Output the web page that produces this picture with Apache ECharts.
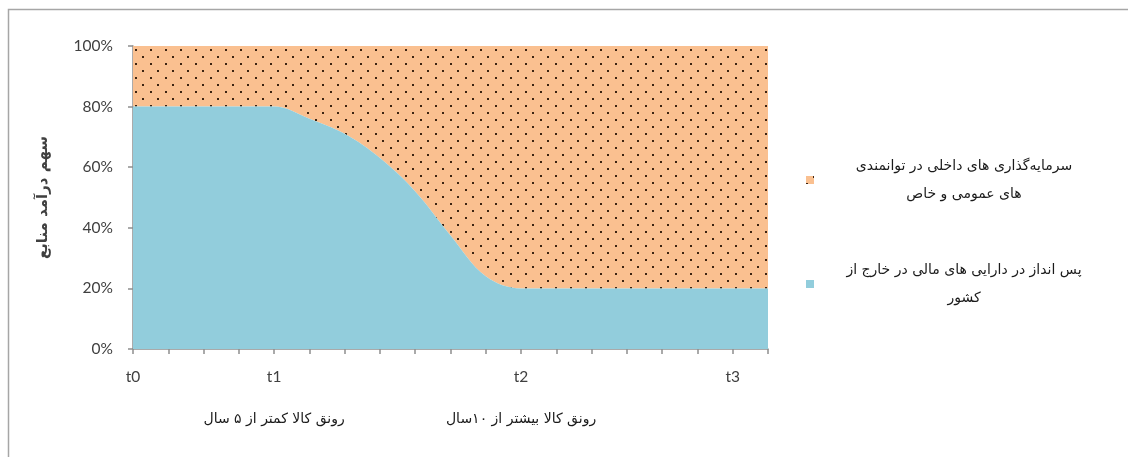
<!DOCTYPE html>
<html>
<head>
<meta charset="utf-8">
<script src="https://cdn.jsdelivr.net/npm/echarts@6/dist/echarts.min.js"></script>
<style>
html,body{margin:0;padding:0;background:#fff;}
#chart{width:1128px;height:457px;}
</style>
</head>
<body>
<div id="chart"></div>
<script>
// ---- data ----
var xCategories = ['0', '1', '2', '3', '4', '5', '6', '7', '8', '9', '10', '11', '12', '13', '14', '15', '16', '17', '18'];
var savingsAbroad = [80, 80, 80, 80, 80, 76, 71, 63, 52, 37.5, 24, 20, 20, 20, 20, 20, 20, 20, 20];
var domesticInvestment = [20, 20, 20, 20, 20, 24, 29, 37, 48, 62.5, 76, 80, 80, 80, 80, 80, 80, 80, 80];
var timeTickIndex = [0, 4, 11, 17];
var timeTickLabels = ['t0', 't1', 't2', 't3'];
var phaseTickIndex = [4, 11];
var phaseTickLabels = ['رونق کالا کمتر از ۵ سال', 'رونق کالا بیشتر از ۱۰سال'];
var seriesNames = {
  abroad: 'پس انداز در دارایی های مالی در خارج از\nکشور',
  domestic: 'سرمایه‌گذاری های داخلی در توانمندی\nهای عمومی و خاص'
};
var yAxisTitle = 'سهم درآمد منابع';

var chart = echarts.init(document.getElementById('chart'), null, {renderer: 'canvas'});
var axisColor = '#8f8f8f';
var labelFont = 'Lato, "Open Sans", sans-serif';
var faFont = '"DejaVu Sans", sans-serif';

chart.setOption({
  animation: false,
  backgroundColor: '#ffffff',
  grid: {left: 133, right: 360, top: 46, bottom: 108, containLabel: false},
  graphic: [{
    type: 'rect',
    shape: {x: 8.5, y: 9.5, width: 1300, height: 600},
    style: {fill: 'none', stroke: '#a6a6a6', lineWidth: 1.5},
    silent: true
  }],
  legend: {
    orient: 'vertical',
    left: 806,
    top: 159,
    padding: 0,
    itemGap: 62,
    itemWidth: 8,
    itemHeight: 8,
    icon: 'rect',
    data: [seriesNames.domestic, seriesNames.abroad],
    formatter: function (name) {
      return name.split('\n').map(function (s) { return '{c|' + s + '}'; }).join('\n');
    },
    textStyle: {
      rich: {
        c: {width: 290, align: 'center', lineHeight: 28, fontSize: 14, fontFamily: faFont, color: '#1a1a1a'}
      }
    }
  },
  xAxis: [{
    type: 'category',
    data: xCategories,
    boundaryGap: false,
    axisLine: {show: true, lineStyle: {color: axisColor, width: 1.5}},
    axisTick: {show: true, interval: 0, length: 5, lineStyle: {color: axisColor, width: 1.5}},
    splitLine: {show: false},
    axisLabel: {
      interval: 0,
      margin: 20,
      fontSize: 15.5, fontFamily: labelFont, color: '#404040',
      formatter: function (v, idx) { var i = timeTickIndex.indexOf(idx); return i >= 0 ? timeTickLabels[i] : ''; }
    }
  }, {
    type: 'category',
    data: xCategories,
    boundaryGap: false,
    position: 'bottom',
    offset: 53,
    axisLine: {show: false},
    axisTick: {show: false},
    splitLine: {show: false},
    axisLabel: {
      interval: 0,
      margin: 10,
      fontSize: 14, fontFamily: faFont, color: '#1a1a1a',
      formatter: function (v, idx) { var i = phaseTickIndex.indexOf(idx); return i >= 0 ? phaseTickLabels[i] : ''; }
    }
  }],
  yAxis: {
    type: 'value',
    min: 0, max: 100, interval: 20,
    name: yAxisTitle,
    nameLocation: 'middle',
    nameRotate: 90,
    nameGap: 82,
    nameTextStyle: {fontSize: 15, fontWeight: 'bold', fontFamily: faFont, color: '#404040'},
    axisLine: {show: true, lineStyle: {color: axisColor, width: 1.5}},
    axisTick: {show: true, length: 5, lineStyle: {color: axisColor, width: 1.5}},
    splitLine: {show: false},
    axisLabel: {
      margin: 20,
      fontSize: 15.5, fontFamily: labelFont, color: '#404040',
      formatter: '{value}%'
    }
  },
  series: [{
    name: seriesNames.abroad,
    type: 'line',
    stack: 'share',
    smooth: 0.35,
    showSymbol: false,
    symbol: 'none',
    lineStyle: {width: 0},
    itemStyle: {color: '#92CDDC'},
    areaStyle: {color: '#92CDDC', opacity: 1},
    data: savingsAbroad,
    z: 3
  }, {
    name: seriesNames.domestic,
    type: 'line',
    stack: 'share',
    smooth: 0.35,
    showSymbol: false,
    symbol: 'none',
    lineStyle: {width: 0},
    itemStyle: {
      color: '#FAC090',
      decal: {
        symbol: 'rect',
        symbolSize: 1,
        color: '#3d2412',
        dashArrayX: [[2, 13], [0, 7, 2, 6]],
        dashArrayY: [2, 5]
      }
    },
    areaStyle: {color: '#FAC090', opacity: 1},
    data: domesticInvestment,
    z: 2
  }]
});
</script>
</body>
</html>
